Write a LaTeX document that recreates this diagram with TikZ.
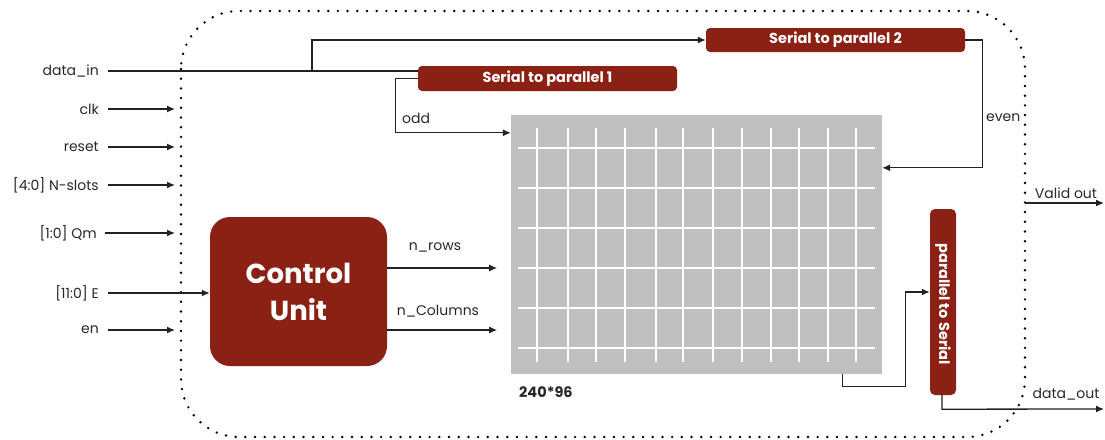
\documentclass[tikz,border=0pt]{standalone}
\usepackage{fontspec}
\setmainfont{Poppins}
\usetikzlibrary{arrows.meta,calc}
\definecolor{blockred}{RGB}{138,33,20}
\definecolor{wire}{RGB}{34,34,34}
\definecolor{txt}{RGB}{40,40,40}
\definecolor{cells}{RGB}{192,192,192}
\tikzset{
  wire/.style={draw=wire,line width=1.3pt},
  arr/.style={wire,-{Latex[length=8pt,width=7pt]}},
  lbl/.style={text=txt,font=\fontsize{14}{16}\selectfont,inner sep=0pt},
  block/.style={fill=blockred,draw=none,rounded corners=4pt,text=white,
    font=\fontsize{14.5}{16}\selectfont\bfseries,inner sep=0pt},
  boundary/.style={draw=black,line width=2.7pt,line cap=round,
    dash pattern=on 0pt off 9.7pt,rounded corners=58pt},
  cellline/.style={draw=white,line width=1.5pt}
}
\begin{document}
\begin{tikzpicture}[x=1pt,y=-1pt]
\useasboundingbox (0,0) rectangle (1105,439);
\fill[white] (0,0) rectangle (1105,439);

% chip boundary
\draw[boundary] (181,11) rectangle (1025,437);

% processing blocks
\node[block,minimum width=259pt,minimum height=25pt] (sp1) at (547.5,78.5) {Serial to parallel 1};
\node[block,minimum width=259pt,minimum height=24pt] (sp2) at (835.5,40) {Serial to parallel 2};
\node[block,minimum width=26pt,minimum height=186pt,rounded corners=5pt] (ps) at (943,302) {};
\node[rotate=-90,text=white,font=\fontsize{14.5}{16}\selectfont\bfseries,inner sep=0pt] (pstext) at ([yshift=-2pt]ps.center) {parallel to Serial};
\node[block,rounded corners=20pt,minimum width=177pt,minimum height=149pt,
  font=\fontsize{27.5}{37}\selectfont\bfseries,align=center] (cu) at (298.5,291.5) {Control\\Unit};

% interleaver memory grid
\node[fill=cells,draw=none,minimum width=371pt,minimum height=259pt,inner sep=0pt] (grid) at (696.5,244.5) {};
\foreach \y in {148,188,228,268,308,348}
  \draw[cellline] (518,\y) -- (875,\y);
\foreach \x in {537,568,596,625,656,683,713,742,771,799,828,856}
  \draw[cellline] (\x,128) -- (\x,362);
\node[lbl,font=\fontsize{14.5}{16}\selectfont\bfseries,anchor=west] (dim) at (519,392) {240*96};

% input ports
\node[lbl,anchor=east] (din) at (99,71) {data\_in};
\node[lbl,anchor=east] (clk) at (99,109) {clk};
\node[lbl,anchor=east] (rst) at (99,147) {reset};
\node[lbl,anchor=east] (nsl) at (99,185) {[4:0] N-slots};
\node[lbl,anchor=east] (qm) at (97,233) {[1:0] Qm};
\node[lbl,anchor=east] (ein) at (99,293) {[11:0] E};
\node[lbl,anchor=east] (en) at (99,330) {en};

\draw[arr] ([xshift=9pt]clk.east) -- ++(67,0);
\draw[arr] ([xshift=9pt]rst.east) -- ++(67,0);
\draw[arr] ([xshift=9pt]nsl.east) -- ++(67,0);
\draw[arr] ([xshift=8pt]qm.east) -- ++(70,0);
\draw[arr] ([xshift=9pt]en.east) -- ++(67,0);
\draw[arr] ([xshift=9pt]ein.east) -- (ein.east -| cu.west);

% serial input split into the two converters
\coordinate (split) at (312,71);
\draw[wire] ([xshift=9pt]din.east) -- (split) -- (split -| sp1.west);
\draw[arr] (split) |- (sp2.west);

% odd / even streams into the grid
\draw[arr] (sp1.west) -- ++(-22,0) |- ([yshift=-18pt]grid.north west);
\node[lbl,anchor=west] (oddl) at (402,118) {odd};
\draw[arr] (sp2.east) -- ++(17,0) |- ([yshift=-53pt]grid.north east);
\node[lbl,anchor=west] (evenl) at (986,118) {even};

% control signals
\draw[arr] ([yshift=23.5pt]cu.east) -- ++(110,0);
\node[lbl] (nrows) at (435,247) {n\_rows};
\draw[arr] ([yshift=-38.5pt]cu.east) -- ++(110,0);
\node[lbl] (ncols) at (438,311) {n\_Columns};

% grid readout to the parallel-to-serial converter
\draw[arr] ([xshift=-40pt]grid.south east) -- ++(0,12) -- ++(63,0) |- ([yshift=10pt]ps.west);

% output ports
\coordinate (vstart) at (1025,203);
\coordinate (vend) at (1104,203);
\draw[arr] (vstart) -- (vend);
\node[lbl] (validl) at (1066,193) {Valid out};
\coordinate (dend) at (1104,409);
\draw[arr] ([xshift=-1pt]ps.south) -- ++(0,14) -- (dend);
\node[lbl] (doutl) at (1066,394) {data\_out};
\end{tikzpicture}
\end{document}
